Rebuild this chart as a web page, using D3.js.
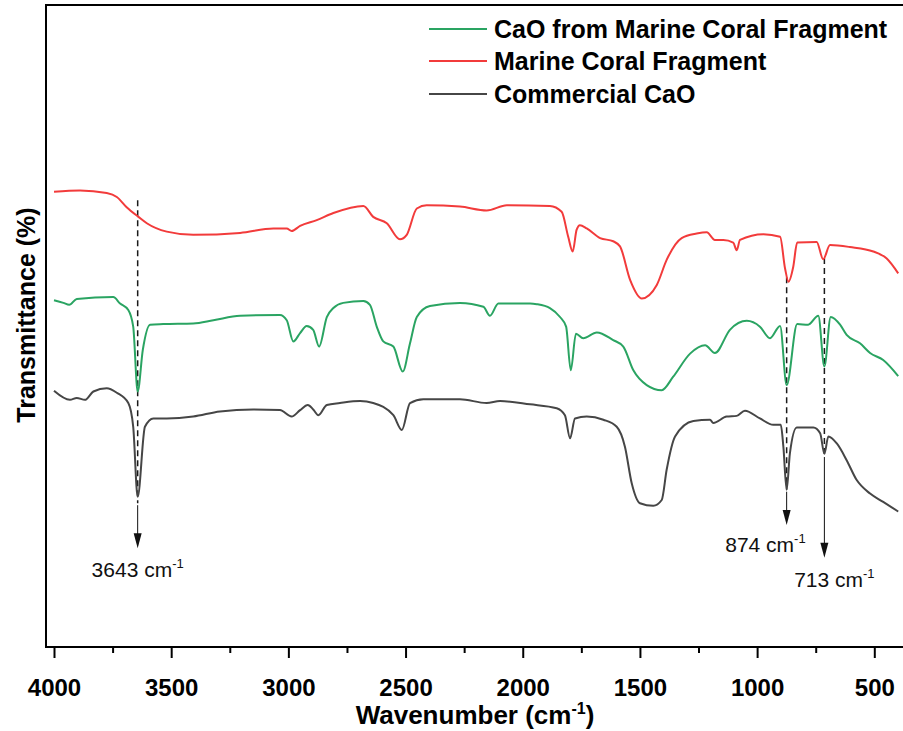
<!DOCTYPE html>
<html>
<head>
<meta charset="utf-8">
<script src="https://cdn.jsdelivr.net/npm/d3@7"></script>
<style>
body { margin: 0; background: #fff; }
text { font-family: "Liberation Sans", Arial, sans-serif; }
</style>
</head>
<body>
<div id="plot"></div>
<script>
// FTIR spectra: wavenumber (cm-1) and offset transmittance (arb. units)
var coralWn = [4000,3889,3775,3732,3690,3640,3604,3519,3406,3206,3064,3007,2986,2950,2879,2808,2680,2638,2580,2524,2495,2452,2410,2268,2154,2068,1884,1834,1806,1787,1770,1756,1727,1670,1614,1585,1542,1492,1428,1386,1322,1258,1215,1180,1144,1102,1087,1073,973,902,881,866,846,829,746,718,689,604,504,447,398]
var coralT = [70.9,71.1,70.7,70.1,68.5,67.0,66.0,64.7,64.2,64.5,65.2,65.2,64.8,65.6,66.5,67.6,68.7,67.0,66.0,63.5,64.2,68.3,68.8,68.6,68.0,68.8,68.7,67.8,63.9,61.6,65.0,65.7,65.2,63.7,63.2,62.4,57.2,54.3,56.4,60.3,63.7,64.4,64.6,63.4,63.4,63.0,61.8,63.4,64.3,63.9,59.0,56.9,59.2,63.0,63.1,60.4,62.6,62.3,61.6,60.5,58.2]

var caoCoralWn = [4000,3960,3935,3903,3747,3718,3683,3662,3643,3621,3590,3534,3406,3320,3206,3036,3007,2979,2950,2922,2894,2869,2836,2808,2766,2680,2652,2623,2595,2552,2512,2481,2452,2396,2268,2168,2140,2104,1969,1940,1884,1841,1815,1795,1773,1742,1684,1614,1571,1528,1471,1407,1358,1286,1222,1180,1116,1044,988,945,902,874,829,782,739,713,686,646,618,561,518,462,398]
var caoCoralT = [54.0,53.6,53.3,54.2,54.5,53.5,52.5,49.9,39.8,46.3,50.2,50.3,50.4,50.9,51.6,51.7,50.9,47.6,48.9,50.0,49.4,46.8,51.4,52.8,53.6,53.9,53.3,49.9,47.6,46.8,42.9,47.3,51.4,53.1,53.6,53.0,51.6,53.5,53.5,53.4,52.8,51.4,49.9,43.1,48.8,48.1,49.0,47.8,46.8,43.1,40.8,40.0,42.1,45.7,47.0,45.8,49.4,50.8,49.9,48.1,50.0,40.8,50.3,50.2,51.6,43.7,51.4,50.2,48.6,47.3,45.8,44.7,42.2]

var commWn = [4000,3932,3903,3868,3832,3775,3732,3683,3662,3643,3612,3576,3519,3406,3292,3150,3036,2986,2950,2917,2894,2872,2836,2780,2694,2638,2552,2516,2481,2424,2268,2154,2097,1969,1855,1820,1798,1777,1727,1656,1599,1564,1535,1500,1443,1407,1386,1350,1272,1201,1187,1130,1087,1052,988,931,899,888,874,860,831,760,731,713,696,660,618,575,518,462,398]
var commT = [39.9,38.5,38.8,38.5,39.8,40.3,39.6,38.0,34.3,23.4,34.3,35.6,35.6,35.9,36.7,37.0,36.9,35.9,36.9,37.7,37.0,36.1,37.7,38.0,38.3,38.0,36.1,33.8,38.0,38.6,38.6,38.0,38.3,37.8,37.2,36.1,32.5,35.6,35.9,35.4,34.3,31.2,25.5,22.4,22.0,22.9,27.6,32.8,35.2,35.4,34.9,35.9,36.0,36.8,35.6,34.6,34.6,31.2,24.5,30.2,34.2,34.2,33.3,30.1,32.8,31.7,29.1,26.0,23.9,22.6,21.1]

var seriesNames = ["CaO from Marine Coral Fragment", "Marine Coral Fragment", "Commercial CaO"]
var seriesColors = ["#2aa462", "#f23b3b", "#464646"]

var xTicks = [4000, 3500, 3000, 2500, 2000, 1500, 1000, 500]
var xMinorTicks = [3750, 3250, 2750, 2250, 1750, 1250, 750]

// marked peaks (cm-1)
var peaks = [3643, 874, 713]

// svg dimensions
var W = 903, H = 731
var margin = {top: 5, left: 46, bottom: 84}
var plotRight = 906

var svg = d3.select("#plot").append("svg")
    .attr("width", W)
    .attr("height", H)

var x = d3.scaleLinear().domain([4000, 500]).range([54, 874.3])
var y = d3.scaleLinear().domain([0, 100]).range([H - margin.bottom, margin.top])

var series = [
    {name: seriesNames[0], color: seriesColors[0], wn: caoCoralWn, t: caoCoralT},
    {name: seriesNames[1], color: seriesColors[1], wn: coralWn, t: coralT},
    {name: seriesNames[2], color: seriesColors[2], wn: commWn, t: commT}
]

var line = d3.line()
    .x(function (d) { return x(d[0]) })
    .y(function (d) { return y(d[1]) })
    .curve(d3.curveMonotoneX)

// annotation guides (y in data units)
var guides = [
    {wn: peaks[0], dashTop: 69.6, dashBot: 22.4, tip: 15.4, label: "3643", lx: 0, ly: 10.9, anchor: "middle"},
    {wn: peaks[1], dashTop: 57.6, dashBot: 24.5, tip: 19.0, label: "874", lx: 19, ly: 14.8, anchor: "end"},
    {wn: peaks[2], dashTop: 60.6, dashBot: 29.9, tip: 13.9, label: "713", lx: 10, ly: 9.3, anchor: "middle"}
]

// dashed guides
svg.selectAll(".guide")
    .data(guides)
    .enter().append("line")
    .attr("class", "guide")
    .attr("x1", function (d) { return x(d.wn) })
    .attr("x2", function (d) { return x(d.wn) })
    .attr("y1", function (d) { return y(d.dashTop) })
    .attr("y2", function (d) { return y(d.dashBot) })
    .attr("stroke", "#1a1a1a")
    .attr("stroke-width", 1.5)
    .attr("stroke-dasharray", "6,4")

// solid arrows + labels
guides.forEach(function (d) {
    var gx = x(d.wn)
    svg.append("line")
        .attr("x1", gx).attr("x2", gx)
        .attr("y1", y(d.dashBot) + 2)
        .attr("y2", y(d.tip) - 12)
        .attr("stroke", "#111")
        .attr("stroke-width", 1)
    svg.append("path")
        .attr("d", "M" + (gx - 4) + "," + (y(d.tip) - 15) + " L" + (gx + 4) + "," + (y(d.tip) - 15) + " L" + gx + "," + y(d.tip) + " Z")
        .attr("fill", "#111")
    var t = svg.append("text")
        .attr("x", gx + d.lx)
        .attr("y", y(d.ly))
        .attr("text-anchor", d.anchor)
        .style("font-size", "21px")
        .attr("fill", "#111")
    t.append("tspan").text(d.label + " cm")
    t.append("tspan").attr("dy", -9).style("font-size", "13px").text("-1")
})

// spectra
svg.selectAll(".spec")
    .data(series)
    .enter().append("path")
    .attr("class", "spec")
    .attr("d", function (s) { return line(s.wn.map(function (w, i) { return [w, s.t[i]] })) })
    .attr("fill", "none")
    .attr("stroke", function (s) { return s.color })
    .attr("stroke-width", 2)
    .attr("stroke-linejoin", "round")

// frame
svg.append("rect")
    .attr("x", margin.left)
    .attr("y", margin.top)
    .attr("width", plotRight - margin.left)
    .attr("height", H - margin.bottom - margin.top)
    .attr("fill", "none")
    .attr("stroke", "#000")
    .attr("stroke-width", 2)

// bottom axis
var xAxis = svg.append("g")
    .attr("transform", "translate(0," + (H - margin.bottom) + ")")
    .call(d3.axisBottom(x).tickValues(xTicks).tickSize(11).tickPadding(21).tickSizeOuter(0).tickFormat(d3.format("d")))
xAxis.select(".domain").remove()
xAxis.selectAll(".tick line").attr("stroke-width", 2)
xAxis.selectAll("text")
    .style("font-family", "'Liberation Sans', Arial, sans-serif")
    .style("font-size", "24px")
    .style("font-weight", "bold")
    .attr("fill", "#000")

var xMinor = svg.append("g")
    .attr("transform", "translate(0," + (H - margin.bottom) + ")")
    .call(d3.axisBottom(x).tickValues(xMinorTicks).tickSize(6).tickFormat(""))
xMinor.select(".domain").remove()
xMinor.selectAll(".tick line").attr("stroke-width", 2)

// axis titles
var xt = svg.append("text")
    .attr("x", 475)
    .attr("y", 724)
    .attr("text-anchor", "middle")
    .style("font-size", "26px")
    .style("font-weight", "bold")
xt.append("tspan").text("Wavenumber (cm")
xt.append("tspan").attr("dy", -10).style("font-size", "16px").text("-1")
xt.append("tspan").attr("dy", 10).text(")")

svg.append("text")
    .attr("transform", "translate(35," + 315 + ") rotate(-90)")
    .attr("text-anchor", "middle")
    .style("font-size", "25px")
    .style("font-weight", "bold")
    .text("Transmittance (%)")

// legend
var legend = svg.selectAll(".legend")
    .data(series)
    .enter().append("g")
    .attr("class", "legend")
    .attr("transform", function (d, i) { return "translate(429," + [29, 61, 94][i] + ")" })
legend.append("line")
    .attr("x1", 0).attr("x2", 58)
    .attr("stroke", function (d) { return d.color })
    .attr("stroke-width", 2)
legend.append("text")
    .attr("x", 65)
    .attr("dy", "0.36em")
    .style("font-size", "25px")
    .style("font-weight", "bold")
    .text(function (d) { return d.name })
</script>
</body>
</html>
